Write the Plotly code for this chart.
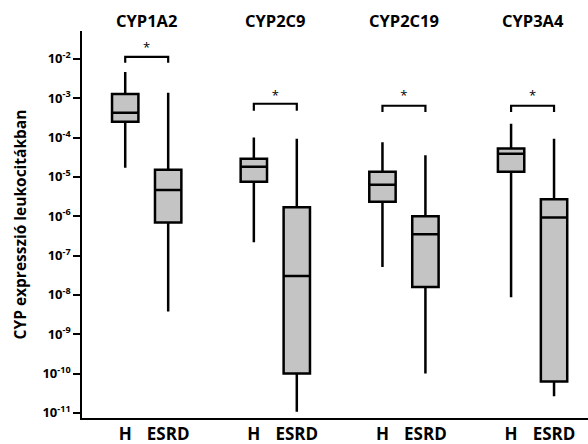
import math
import plotly.graph_objects as go

# ---- data (log10 of expression values) ----
genes = ["CYP1A2", "CYP2C9", "CYP2C19", "CYP3A4"]
group_labels = ["H", "ESRD"]

h_lower = [-4.77, -6.66, -7.29, -8.06]
h_q1 = [-3.60, -5.12, -5.63, -4.87]
h_median = [-3.37, -4.74, -5.20, -4.41]
h_q3 = [-2.89, -4.54, -4.87, -4.28]
h_upper = [-2.33, -4.00, -4.12, -3.65]

esrd_lower = [-8.42, -10.97, -10.00, -10.58]
esrd_q1 = [-6.16, -10.00, -7.80, -10.20]
esrd_median = [-5.33, -7.52, -6.46, -6.03]
esrd_q3 = [-4.82, -5.77, -6.00, -5.57]
esrd_upper = [-2.86, -4.03, -4.45, -4.03]

# significance brackets (log10 levels)
bracket_top = [-1.95, -3.14, -3.19, -3.19]
bracket_leg = [-2.10, -3.32, -3.35, -3.35]
star_level = [-1.74, -2.96, -2.96, -2.96]
star_text = ["*", "*", "*", "*"]

ytick_exp = [-2, -3, -4, -5, -6, -7, -8, -9, -10, -11]
minor_exp = [-12, -11, -10, -9, -8, -7, -6, -5, -4, -3, -2]
minor_mult = [2, 3, 4, 5, 6, 7, 8, 9]

# ---- figure ----
OFF = 0.167
BOXW = 0.205
YRANGE = [-11.13, -1.29]
XRANGE = [-0.503, 3.431]
h_x = [i - OFF for i in range(len(genes))]
e_x = [i + OFF for i in range(len(genes))]
p10 = lambda arr: [10 ** v for v in arr]

FILL = "rgb(196,196,196)"
fig = go.Figure()
for xs, lo, q1, md, q3, up in [
    (h_x, h_lower, h_q1, h_median, h_q3, h_upper),
    (e_x, esrd_lower, esrd_q1, esrd_median, esrd_q3, esrd_upper),
]:
    fig.add_trace(go.Box(
        x=xs, lowerfence=p10(lo), q1=p10(q1), median=p10(md), q3=p10(q3),
        upperfence=p10(up), width=BOXW, whiskerwidth=0, boxpoints=False,
        fillcolor=FILL, line=dict(color="black", width=2.5),
        showlegend=False, hoverinfo="skip",
    ))

bx, by = [], []
for i in range(len(genes)):
    bx += [h_x[i], h_x[i], e_x[i], e_x[i], None]
    by += [10 ** bracket_leg[i], 10 ** bracket_top[i], 10 ** bracket_top[i], 10 ** bracket_leg[i], None]
fig.add_trace(go.Scatter(x=bx, y=by, mode="lines", line=dict(color="black", width=2.2),
                         showlegend=False, hoverinfo="skip", cliponaxis=False))
fig.add_trace(go.Scatter(x=list(range(len(genes))), y=p10(star_level), mode="text",
                         text=star_text, textfont=dict(size=13, color="black", family="Open Sans"),
                         showlegend=False, hoverinfo="skip", cliponaxis=False))

# minor ticks of the log axis, drawn as short dash markers just left of the axis line
minor_vals = [m * 10 ** e for e in minor_exp for m in minor_mult
              if YRANGE[0] <= e + math.log10(m) <= YRANGE[1]]
px_per_unit = 506 / (XRANGE[1] - XRANGE[0])
fig.add_trace(go.Scatter(
    x=[XRANGE[0] - 2.5 / px_per_unit] * len(minor_vals), y=minor_vals, mode="markers",
    marker=dict(symbol="line-ew", size=5, line=dict(color="black", width=1.4)),
    showlegend=False, hoverinfo="skip", cliponaxis=False,
))

for i, g in enumerate(genes):
    fig.add_annotation(x=i, y=1.026, xref="x", yref="paper", text="<b>%s</b>" % g,
                       showarrow=False, font=dict(size=16.5, color="black", family="Open Sans"),
                       yanchor="middle")

fig.update_layout(
    width=588, height=444,
    margin=dict(l=82, r=0, t=31, b=26),
    plot_bgcolor="white", paper_bgcolor="white",
    font=dict(family="Open Sans", color="black"),
)
fig.update_xaxes(
    range=XRANGE, tickmode="array",
    tickvals=[v for pair in zip(h_x, e_x) for v in pair],
    ticktext=["<b>%s</b>" % t for _ in genes for t in group_labels],
    ticks="", showline=True, linecolor="black", linewidth=1.5, showgrid=False,
    zeroline=False, tickfont=dict(size=17, color="black"),
)
fig.update_yaxes(
    type="log", range=YRANGE, tickmode="array",
    tickvals=[10 ** e for e in ytick_exp],
    ticktext=["<b>10<sup>%d</sup></b>" % e for e in ytick_exp],
    ticks="outside", ticklen=7, tickwidth=1.6, tickcolor="black",
    showline=True, linecolor="black", linewidth=1.5, showgrid=False, zeroline=False,
    tickfont=dict(size=13, color="black"),
    title=dict(text="<b>CYP expresszió leukocitákban</b>", font=dict(size=15.5, color="black"), standoff=12),
)

fig.write_html("out.html")
